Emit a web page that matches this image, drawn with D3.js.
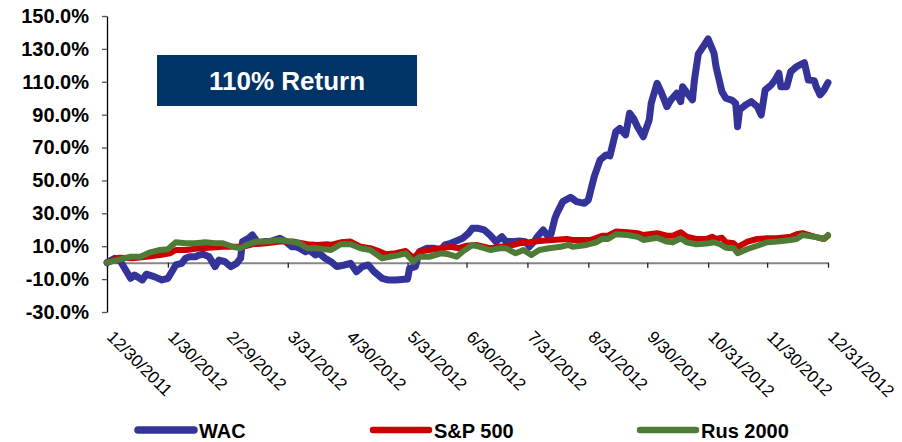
<!DOCTYPE html>
<html lang="en">
<head>
<meta charset="utf-8">
<title>WAC vs indices 2012</title>
<script src="https://d3js.org/d3.v7.min.js"></script>
<style>
  body { margin: 0; background: #fff; }
  svg { font-family: "Liberation Sans", Arial, sans-serif; }
  .yaxis text { font-size: 20px; font-weight: bold; fill: #000; }
  .xlabel { font-size: 17px; fill: #000; }
  .legend text { font-size: 20px; font-weight: bold; fill: #000; }
</style>
</head>
<body>
<div id="chart"></div>
<script>

// data (% return since 12/30/2011)
var dateTicks = ["12/30/2011","1/30/2012","2/29/2012","3/31/2012","4/30/2012","5/31/2012",
  "6/30/2012","7/31/2012","8/31/2012","9/30/2012","10/31/2012","11/30/2012","12/31/2012"];
var yTicks = [-30, -10, 10, 30, 50, 70, 90, 110, 130, 150];

var wac = [
  ["12/30/2011",0],["1/3/2012",2.7],["1/6/2012",0.6],["1/11/2012",-9.5],["1/13/2012",-7.5],
  ["1/17/2012",-10.5],["1/19/2012",-7],["1/23/2012",-8.5],["1/27/2012",-10.5],["1/30/2012",-9.5],
  ["2/1/2012",-5.5],["2/3/2012",-1.4],["2/6/2012",-0.4],["2/8/2012",2.7],["2/10/2012",3.6],
  ["2/13/2012",3.6],["2/15/2012",4.7],["2/17/2012",5.1],["2/20/2012",3.6],["2/23/2012",-2.4],
  ["2/25/2012",1.6],["2/28/2012",0.6],["3/2/2012",-2.4],["3/5/2012",-0.4],["3/7/2012",2.7],
  ["3/8/2012",12.8],["3/11/2012",14.8],["3/13/2012",16.8],["3/16/2012",11.8],["3/19/2012",12.8],
  ["3/22/2012",12.8],["3/27/2012",14.8],["3/30/2012",12.8],["4/2/2012",9.7],["4/4/2012",9.7],
  ["4/6/2012",8.8],["4/9/2012",6.7],["4/11/2012",7.7],["4/14/2012",4.7],["4/16/2012",5.7],
  ["4/19/2012",2.7],["4/22/2012",0.6],["4/25/2012",-2.4],["4/29/2012",-1.4],["5/2/2012",-0.4],
  ["5/5/2012",-5.5],["5/8/2012",-2.4],["5/11/2012",-1.4],["5/14/2012",-5.5],["5/18/2012",-9.5],
  ["5/21/2012",-10.5],["5/25/2012",-10.5],["5/31/2012",-9.9],["6/1/2012",-3.4],["6/4/2012",-2.4],
  ["6/6/2012",6.7],["6/10/2012",8.8],["6/13/2012",8.8],["6/17/2012",7.7],["6/19/2012",10.8],
  ["6/22/2012",11.8],["6/26/2012",13.8],["6/28/2012",14.8],["7/1/2012",17.9],["7/3/2012",20.9],
  ["7/6/2012",20.9],["7/9/2012",19.9],["7/12/2012",16.8],["7/15/2012",12.8],["7/16/2012",13.8],
  ["7/18/2012",15.8],["7/20/2012",12.8],["7/23/2012",12.8],["7/27/2012",13.2],["7/30/2012",12.8],
  ["8/1/2012",9.7],["8/4/2012",13.8],["8/5/2012",15.8],["8/8/2012",19.9],["8/10/2012",16.8],
  ["8/12/2012",17.4],["8/14/2012",27],["8/15/2012",30],["8/18/2012",37.1],["8/22/2012",39.8],
  ["8/25/2012",37.1],["8/29/2012",36.1],["8/31/2012",38.1],["9/3/2012",52.3],["9/6/2012",62.5],
  ["9/9/2012",65.5],["9/11/2012",64.9],["9/14/2012",79.7],["9/16/2012",81.7],["9/19/2012",77.7],
  ["9/21/2012",90.9],["9/23/2012",87.8],["9/25/2012",82.7],["9/28/2012",76.6],["10/1/2012",86.8],
  ["10/2/2012",96.9],["10/5/2012",109.1],["10/7/2012",104],["10/10/2012",94.9],["10/12/2012",98.9],
  ["10/15/2012",103],["10/17/2012",97.9],["10/18/2012",107],["10/21/2012",102],["10/23/2012",99],
  ["10/24/2012",111],["10/26/2012",127],["10/29/2012",132.4],["10/31/2012",136],["11/3/2012",127.3],
  ["11/4/2012",119.2],["11/7/2012",104],["11/9/2012",100],["11/12/2012",98.9],["11/14/2012",96.9],
  ["11/15/2012",82.7],["11/16/2012",92.9],["11/19/2012",95.9],["11/22/2012",97.9],["11/25/2012",94.9],
  ["11/27/2012",89.8],["11/29/2012",105],["12/2/2012",108],["12/4/2012",111],["12/6/2012",115.2],
  ["12/7/2012",107],["12/10/2012",107],["12/12/2012",116.1],["12/15/2012",119.2],["12/19/2012",121.6],
  ["12/21/2012",111],["12/24/2012",110.7],["12/25/2012",107],["12/27/2012",102],["12/29/2012",105],
  ["12/31/2012",109.5]
];

var sp500 = [
  ["12/30/2011",0],["1/5/2012",3],["1/12/2012",2.7],["1/19/2012",3.6],["1/26/2012",4.7],
  ["1/31/2012",5.7],["2/3/2012",7.7],["2/8/2012",7.7],["2/15/2012",8.8],["2/20/2012",9.1],
  ["2/27/2012",9.7],["3/3/2012",9.7],["3/8/2012",9.7],["3/13/2012",11.2],["3/20/2012",11.8],
  ["3/27/2012",12.8],["4/3/2012",12.8],["4/10/2012",11.2],["4/15/2012",10.8],["4/20/2012",11.2],
  ["4/22/2012",10.8],["4/27/2012",12.4],["5/2/2012",12.8],["5/7/2012",9.7],["5/12/2012",8.8],
  ["5/17/2012",6.7],["5/20/2012",5.1],["5/25/2012",5.7],["5/30/2012",7.1],["6/3/2012",2.7],
  ["6/6/2012",6.7],["6/11/2012",7.7],["6/17/2012",8.8],["6/22/2012",9.7],["6/26/2012",8.8],
  ["6/30/2012",10.3],["7/5/2012",10.8],["7/12/2012",8.8],["7/17/2012",9.7],["7/22/2012",10.3],
  ["7/27/2012",11.8],["8/1/2012",12.4],["8/6/2012",13.2],["8/13/2012",13.8],["8/20/2012",14.4],
  ["8/23/2012",13.8],["9/1/2012",13.8],["9/7/2012",16.4],["9/10/2012",16.4],["9/14/2012",18.9],
  ["9/20/2012",18.5],["9/25/2012",17.9],["9/28/2012",16.8],["10/5/2012",17.9],["10/10/2012",16.4],
  ["10/13/2012",16.4],["10/17/2012",18.5],["10/20/2012",15.8],["10/25/2012",14.4],["10/30/2012",14.4],
  ["11/2/2012",15.8],["11/4/2012",14.4],["11/7/2012",15.2],["11/9/2012",12.4],["11/13/2012",11.8],
  ["11/15/2012",9.4],["11/20/2012",12.8],["11/25/2012",14.4],["11/30/2012",14.8],["12/5/2012",14.8],
  ["12/12/2012",15.8],["12/15/2012",17.3],["12/18/2012",17.9],["12/24/2012",15.8],["12/29/2012",14.4],
  ["12/31/2012",16.4]
];

var rus2000 = [
  ["12/30/2011",0],["1/5/2012",1.8],["1/11/2012",3.6],["1/16/2012",3.6],["1/21/2012",6.3],
  ["1/26/2012",7.7],["1/30/2012",8.1],["2/3/2012",12.4],["2/8/2012",11.8],["2/13/2012",11.8],
  ["2/18/2012",12.4],["2/23/2012",11.8],["2/27/2012",11.8],["3/3/2012",9.7],["3/7/2012",8.8],
  ["3/10/2012",10.8],["3/15/2012",12.8],["3/20/2012",12.8],["3/27/2012",13.8],["4/1/2012",12.8],
  ["4/6/2012",11.8],["4/10/2012",8.8],["4/15/2012",8.8],["4/22/2012",7.7],["4/27/2012",11.2],
  ["5/2/2012",11.2],["5/7/2012",8.8],["5/12/2012",7.7],["5/18/2012",2.7],["5/22/2012",3.6],
  ["5/27/2012",4.7],["5/30/2012",5.7],["6/3/2012",0.6],["6/6/2012",3.6],["6/11/2012",3.6],
  ["6/17/2012",5.7],["6/21/2012",5.1],["6/25/2012",3.6],["6/28/2012",6.7],["7/3/2012",10.8],
  ["7/9/2012",8.8],["7/12/2012",7.7],["7/17/2012",8.8],["7/20/2012",8.8],["7/25/2012",5.7],
  ["7/29/2012",7.7],["8/2/2012",4.7],["8/6/2012",7.7],["8/11/2012",8.8],["8/17/2012",9.7],
  ["8/21/2012",10.8],["8/23/2012",9.7],["8/30/2012",10.8],["9/4/2012",12.4],["9/7/2012",14.4],
  ["9/10/2012",14.4],["9/14/2012",17.3],["9/20/2012",16.8],["9/25/2012",15.8],["9/28/2012",13.8],
  ["10/5/2012",15.2],["10/10/2012",12.8],["10/13/2012",12.4],["10/17/2012",14.8],["10/20/2012",12.4],
  ["10/25/2012",11.2],["10/30/2012",11.6],["11/3/2012",12.4],["11/6/2012",11.2],["11/9/2012",9.1],
  ["11/13/2012",8.8],["11/15/2012",5.7],["11/20/2012",8.3],["11/25/2012",10.3],["11/30/2012",12.4],
  ["12/5/2012",12.8],["12/12/2012",13.8],["12/15/2012",14.4],["12/18/2012",16.8],["12/24/2012",15.8],
  ["12/29/2012",14.4],["12/31/2012",16.8]
];

var seriesNames = ["WAC", "S&P 500", "Rus 2000"];
var calloutText = "110% Return";

var w = 902, h = 442;
var parse = d3.timeParse("%m/%d/%Y");
var fmt = d3.timeFormat("%-m/%-d/%Y");

var svg = d3.select("#chart").append("svg")
  .attr("width", w)
  .attr("height", h);

var x = d3.scaleTime()
  .domain([parse(dateTicks[0]), parse(dateTicks[dateTicks.length - 1])])
  .range([107, 828]);
var y = d3.scaleLinear().domain([-30, 150]).range([312, 16]);

var series = [
  { name: seriesNames[0], data: wac,     color: "#333399", width: 7 },
  { name: seriesNames[1], data: sp500,   color: "#cc0000", width: 6 },
  { name: seriesNames[2], data: rus2000, color: "#4e7b35", width: 6 }
];

// x axis on the zero line
var xAxis = svg.append("g")
  .attr("transform", "translate(0," + y(0) + ")")
  .call(d3.axisBottom(x)
    .tickValues(dateTicks.map(parse))
    .tickSize(5)
    .tickSizeOuter(0)
    .tickFormat(""));
xAxis.select(".domain").attr("stroke", "#868686").attr("stroke-width", 2);
xAxis.selectAll(".tick line").attr("stroke", "#222").attr("stroke-width", 1.3);

svg.append("g").selectAll("text")
  .data(dateTicks.map(parse))
  .enter().append("text")
  .attr("class", "xlabel")
  .attr("transform", function(d) { return "translate(" + (x(d) - 1) + ",338) rotate(45)"; })
  .text(function(d) { return fmt(d); });

// y axis
var yAxis = svg.append("g")
  .attr("class", "yaxis")
  .attr("transform", "translate(107,0)")
  .call(d3.axisLeft(y)
    .tickValues(yTicks)
    .tickSize(5)
    .tickSizeOuter(0)
    .tickPadding(13)
    .tickFormat(function(d) { return d.toFixed(1) + "%"; }));
yAxis.select(".domain").attr("stroke", "#000").attr("stroke-width", 1.3);
yAxis.selectAll(".tick line").attr("stroke", "#555").attr("stroke-width", 1.3);
yAxis.selectAll("text").attr("font-family", null).attr("font-size", null);

// lines
var line = d3.line()
  .x(function(d) { return x(parse(d[0])); })
  .y(function(d) { return y(d[1]); });

svg.append("g").selectAll("path")
  .data(series)
  .enter().append("path")
  .attr("d", function(s) { return line(s.data); })
  .attr("fill", "none")
  .attr("stroke", function(s) { return s.color; })
  .attr("stroke-width", function(s) { return s.width; })
  .attr("stroke-linejoin", "round")
  .attr("stroke-linecap", "round");

// callout box
svg.append("rect")
  .attr("x", 157).attr("y", 55)
  .attr("width", 260).attr("height", 51)
  .attr("fill", "#003366");
svg.append("text")
  .attr("x", 287).attr("y", 90)
  .attr("text-anchor", "middle")
  .attr("fill", "#fff")
  .style("font-size", "26px")
  .style("font-weight", "bold")
  .text(calloutText);

// legend
var legendX = [138, 373, 640];
var legend = svg.append("g").attr("class", "legend")
  .selectAll("g")
  .data(series)
  .enter().append("g")
  .attr("transform", function(s, i) { return "translate(" + legendX[i] + ",430)"; });
legend.append("line")
  .attr("x1", 0).attr("x2", 56)
  .attr("stroke", function(s) { return s.color; })
  .attr("stroke-width", function(s, i) { return i === 0 ? 7.5 : 6.5; })
  .attr("stroke-linecap", "round");
legend.append("text")
  .attr("x", 61).attr("y", 8)
  .text(function(s) { return s.name; });

</script>
</body>
</html>
